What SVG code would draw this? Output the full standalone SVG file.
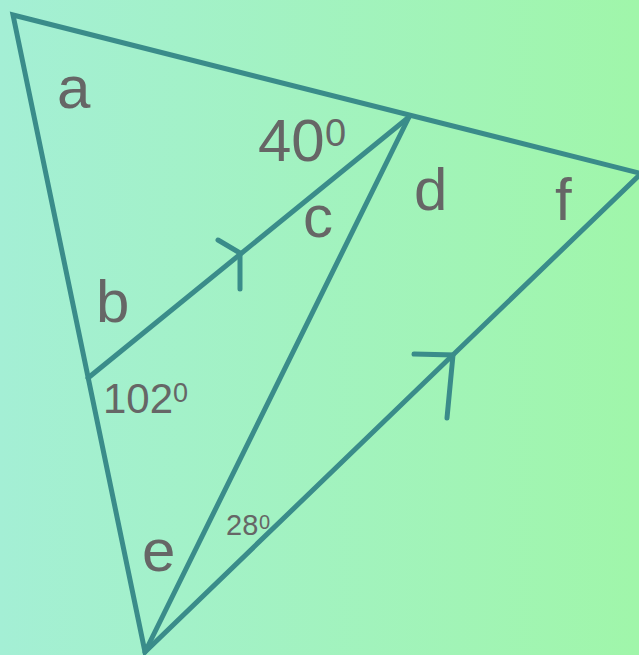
<svg xmlns="http://www.w3.org/2000/svg" width="639" height="655" viewBox="0 0 639 655">
<defs>
<linearGradient id="bg" x1="0" y1="0" x2="1" y2="0">
<stop offset="0" stop-color="#a4efd5"/>
<stop offset="1" stop-color="#a0f6aa"/>
</linearGradient>
<style>
.ln{stroke:#3a8c8a;stroke-width:5;fill:none;stroke-linecap:round;stroke-linejoin:miter}
.t{font-family:"Liberation Sans",Arial,sans-serif;fill:#666666}
.big{font-size:60px}
</style>
</defs>
<rect width="639" height="655" fill="url(#bg)"/>
<g id="connectors">
<path class="ln" d="M641,173.5 L13,15 L145,652 Z"/>
<line class="ln" x1="88" y1="378" x2="409" y2="117"/>
<line class="ln" x1="409" y1="117" x2="145" y2="652"/>
<path class="ln" d="M218,240 L240,253 L240,289"/>
<path class="ln" d="M414,354 L453,355 L447,418"/>
</g>
<g id="label-a"><text class="t big" x="57" y="108">a</text></g>
<g id="label-40"><text class="t big" x="258" y="161">40</text><text class="t" x="325" y="146" font-size="38">0</text></g>
<g id="label-c"><text class="t big" x="303" y="237">c</text></g>
<g id="label-d"><text class="t big" x="414" y="210">d</text></g>
<g id="label-f"><text class="t big" x="555" y="220">f</text></g>
<g id="label-b"><text class="t big" x="96" y="322">b</text></g>
<g id="label-102"><text class="t" x="103" y="413" font-size="42">102</text><text class="t" x="173" y="402" font-size="27">0</text></g>
<g id="label-e"><text class="t big" x="142" y="571">e</text></g>
<g id="label-28"><text class="t" x="226" y="535" font-size="29">28</text><text class="t" x="259" y="529" font-size="20">0</text></g>
</svg>
